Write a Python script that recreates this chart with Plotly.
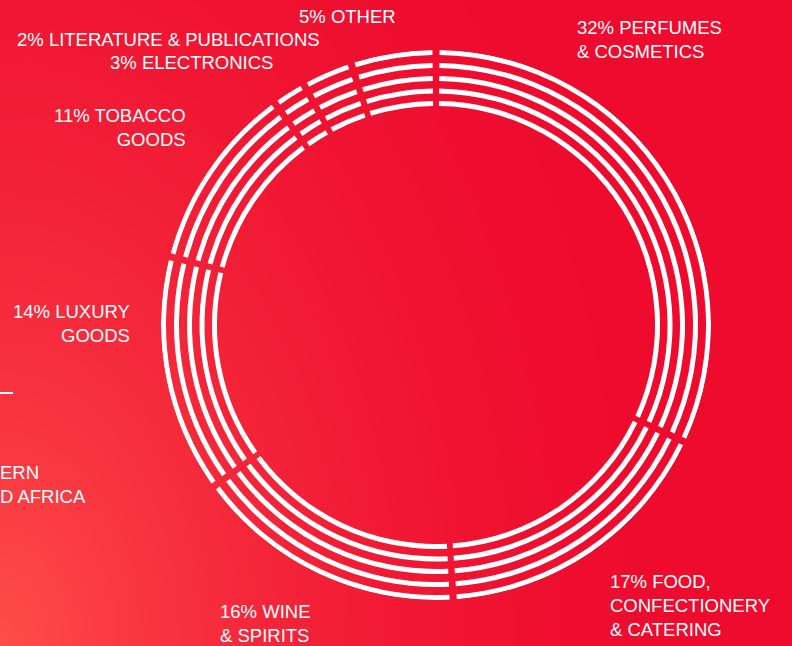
import numpy as np
import plotly.graph_objects as go

# Retail sales split by category, clockwise from 12 o'clock
categories = [
    "PERFUMES<br>& COSMETICS",
    "FOOD,<br>CONFECTIONERY<br>& CATERING",
    "WINE<br>& SPIRITS",
    "LUXURY<br>GOODS",
    "TOBACCO<br>GOODS",
    "LITERATURE & PUBLICATIONS",
    "ELECTRONICS",
    "OTHER",
]
shares = [32, 17, 16, 14, 11, 2, 3, 5]

W, H = 792, 646
CX, CY, R = 436, 325, 275          # ring centre and outer radius (px)
RING_OUTER = [275, 262, 249, 236.5, 224]
RING_THICK = 5
GAP_DEG = 1.5
BASE_RED = "#ee0b2e"
GLOW_RED = "#fe4e4a"
FONT = dict(family="Liberation Sans", size=18.5, color="white")


def px(x):
    return x / W


def py(y):
    return 1 - y / H


fig = go.Figure()

# soft glow coming from the lower-left corner
gx = np.linspace(-10, W + 10, 60)
gy = np.linspace(-10, H + 10, 50)
X, Y = np.meshgrid(gx, gy)
d = np.sqrt((X / 720.0) ** 2 + ((H - Y) / 1100.0) ** 2)
glow = np.clip(1 - d, 0, 1) ** 2
fig.add_trace(go.Heatmap(
    x=gx, y=gy, z=glow, zmin=0, zmax=1, zsmooth="best",
    colorscale=[[0, BASE_RED], [1, GLOW_RED]], showscale=False,
    hoverinfo="skip", xaxis="x", yaxis="y",
))

# concentric striped donut: one barpolar trace per category
total = sum(shares)
start = 0.0
for cat, s in zip(categories, shares):
    span = 360.0 * s / total
    mid = start + span / 2
    fig.add_trace(go.Barpolar(
        theta=[mid] * len(RING_OUTER),
        width=[span - GAP_DEG] * len(RING_OUTER),
        base=[r - RING_THICK for r in RING_OUTER],
        r=[RING_THICK] * len(RING_OUTER),
        marker=dict(color="white", line=dict(width=0)),
        hoverinfo="skip", name=cat.replace("<br>", " "),
        showlegend=False,
    ))
    start += span

labels = [f"{s}% {c}" for s, c in zip(shares, categories)]

# label placement: (x px, y px, xanchor)
label_pos = [
    (575, 39, "left"),
    (608, 605, "left"),
    (218, 623, "left"),
    (132, 323, "right"),
    (188, 127, "right"),
    (322, 39, "right"),
    (275, 62, "right"),
    (398, 17, "right"),
]

annotations = []
for text, (x, y, xa) in zip(labels, label_pos):
    annotations.append(dict(
        text=text, x=px(x), y=py(y), xref="paper", yref="paper",
        xanchor=xa, yanchor="middle", align=xa, showarrow=False,
        font=FONT,
    ))

# neighbouring panel text running in from the left edge
annotations.append(dict(
    text="ERN<br>D AFRICA", x=px(-2), y=py(484), xref="paper", yref="paper",
    xanchor="left", yanchor="middle", align="left", showarrow=False,
    font=FONT,
))

fig.update_layout(
    width=W, height=H,
    margin=dict(l=0, r=0, t=0, b=0),
    paper_bgcolor=BASE_RED, plot_bgcolor=BASE_RED,
    showlegend=False,
    xaxis=dict(domain=[0, 1], range=[0, W], visible=False, fixedrange=True),
    yaxis=dict(domain=[0, 1], range=[H, 0], visible=False, fixedrange=True),
    polar=dict(
        domain=dict(x=[px(CX - R), px(CX + R)], y=[py(CY + R), py(CY - R)]),
        bgcolor="rgba(0,0,0,0)",
        barmode="overlay",
        radialaxis=dict(range=[0, R], visible=False, showgrid=False,
                        showline=False, showticklabels=False, ticks=""),
        angularaxis=dict(rotation=90, direction="clockwise", visible=False,
                         showgrid=False, showline=False, showticklabels=False,
                         ticks=""),
    ),
    shapes=[dict(type="line", xref="paper", yref="paper",
                 x0=0, x1=px(13), y0=py(393), y1=py(393),
                 line=dict(color="white", width=2))],
    annotations=annotations,
)

fig.write_html("out.html")
